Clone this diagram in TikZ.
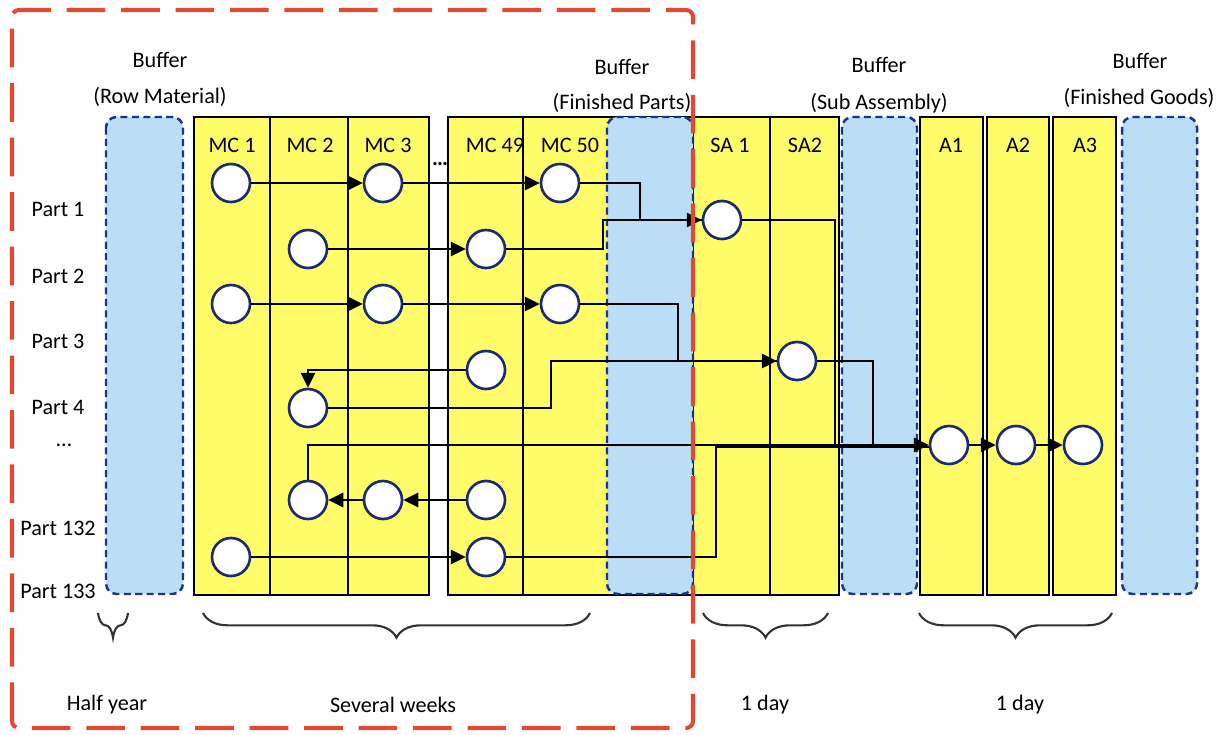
\documentclass[tikz,border=0pt]{standalone}
\usepackage{fontspec}
\setmainfont{Carlito}
\usetikzlibrary{arrows.meta,positioning,calc,decorations.pathreplacing}
\definecolor{bufblue}{RGB}{186,222,246}
\definecolor{bufline}{RGB}{30,50,140}
\definecolor{mcyellow}{RGB}{255,252,105}
\definecolor{framered}{RGB}{222,75,50}
\definecolor{ringblue}{RGB}{28,42,112}

\begin{document}
\begin{tikzpicture}[x=0.02cm, y=-0.02cm, font=\fontsize{12.6}{15}\selectfont,
  station/.style={draw=black, line width=1.5pt, fill=mcyellow},
  buffer/.style={draw=bufline, line width=1.4pt, dash pattern=on 4pt off 2.5pt,
                 fill=bufblue, rounded corners=6pt},
  job/.style={circle, draw=ringblue, line width=1.5pt, fill=white,
              minimum size=0.76cm, inner sep=0pt},
  link/.style={line width=1.5pt},
  flow/.style={link, -{Triangle[length=8.5pt,width=8pt]}},
  span/.style={decorate, decoration={brace, mirror, amplitude=14pt},
               line width=1.2pt, draw=black!80},
  frame/.style={draw=framered, line width=2.3pt, dash pattern=on 22pt off 9pt,
                rounded corners=4pt}]
  \useasboundingbox (0,0) rectangle (1222,734);

  % machines, sub assembly and assembly stations
  \foreach \xa/\xb in {194/270,270/348,348/429,448/523,523/693,
                       693/770,770/839,920/983,987/1049,1053/1116}
    \draw[station] (\xa,117) rectangle (\xb,595);

  % buffers
  \foreach \xa/\xb in {106/183,607/693,842/917,1122/1197}
    \draw[buffer] (\xa,117) rectangle (\xb,594);

  \node (bufrm) at (160,60) {Buffer};
  \node (bufrmtxt) at (160,97) {(Row Material)};
  \node (buffp) at (622,67) {Buffer};
  \node (buffptxt) at (622,103) {(Finished Parts)};
  \node (bufsa) at (879,65) {Buffer};
  \node (bufsatxt) at (879,103) {(Sub Assembly)};
  \node (buffg) at (1140,61) {Buffer};
  \node (buffgtxt) at (1139,98) {(Finished Goods)};

  \foreach \x/\t [count=\i] in {232/MC 1,310/MC 2,388/MC 3,495/MC 49,570/MC 50,
                                730/SA 1,805/SA2,951/A1,1018/A2,1085/A3}
    \node (col\i) at (\x,145) {\t};
  \node (gapdots) at (440,164) {\textbf{.\kern-0.5pt.\kern-0.5pt.}};

  \foreach \y/\t [count=\i] in {209/Part 1,276/Part 2,341/Part 3,407/Part 4,
                                528/Part 132,591/Part 133}
    \node (part\i) at (58,\y) {\t};
  \node (partdots) at (64,445) {\ldots};

  % parts on the machines
  \node[job] (m1a) at (231,183) {};
  \node[job] (m3a) at (383,183) {};
  \node[job] (m50a) at (560,183) {};
  \node[job] (m2b) at (308,249) {};
  \node[job] (m49b) at (486,249) {};
  \node[job] (m1c) at (231,304) {};
  \node[job] (m3c) at (383,304) {};
  \node[job] (m50c) at (560,304) {};
  \node[job] (m49d) at (486,370) {};
  \node[job] (m2e) at (308,408) {};
  \node[job] (m2f) at (308,500) {};
  \node[job] (m3f) at (383,500) {};
  \node[job] (m49f) at (486,500) {};
  \node[job] (m1g) at (231,557) {};
  \node[job] (m49g) at (486,557) {};
  \node[job] (sa1) at (722,220) {};
  \node[job] (sa2) at (797,361) {};
  \node[job] (a1) at (949,445) {};
  \node[job] (a2) at (1016,445) {};
  \node[job] (a3) at (1083,445) {};

  \coordinate (j1) at (640,220);
  \coordinate (j2) at (603,220);
  \coordinate (j3) at (678,361);
  \coordinate (j4) at (551,361);
  \coordinate (j5) at (716,447);
  \coordinate (j6) at (835,445);
  \coordinate (j7) at (873,445);

  % routes
  \draw[flow] (m1a) -- (m3a);
  \draw[flow] (m3a) -- (m50a);
  \draw[flow] (m50a) -| (j1) -- (sa1);
  \draw[flow] (m2b) -- (m49b);
  \draw[link] (m49b) -| (j2) -- (sa1);
  \draw[flow] (m1c) -- (m3c);
  \draw[flow] (m3c) -- (m50c);
  \draw[flow] (m50c) -| (j3) -- (sa2);
  \draw[flow] (m49d) -| (m2e);
  \draw[link] (m2e) -| (j4) -- (sa2);
  \draw[flow] (m49f) -- (m3f);
  \draw[flow] (m3f) -- (m2f);
  \draw[flow] (m2f) |- (a1);
  \draw[flow] (m1g) -- (m49g);
  \draw[link] (m49g) -| (j5) -- (j5 -| a1.west);
  \draw[link] (sa1) -| (j6);
  \draw[link] (sa2) -| (j7);
  \draw[flow] (a1) -- (a2);
  \draw[flow] (a2) -- (a3);

  % lead times
  \draw[span] (98,613) -- (128,613);
  \draw[span] (203,613) -- (590,613);
  \draw[span] (703,613) -- (828,613);
  \draw[span] (919,613) -- (1112,613);
  \node (halfyear) at (107,705) {Half year};
  \node (weeks) at (393,705) {Several weeks};
  \node (day1) at (765,705) {1 day};
  \node (day2) at (1020,705) {1 day};

  \draw[frame] (12,728) -- (12,10) -- (693,10) -- (693,728) -- cycle;
\end{tikzpicture}
\end{document}
